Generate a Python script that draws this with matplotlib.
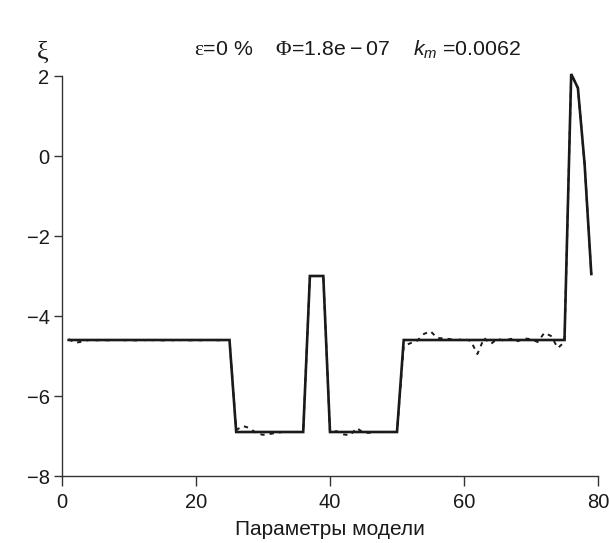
import numpy as np
import matplotlib
matplotlib.use('Agg')
import matplotlib.pyplot as plt

plt.rcParams['font.family'] = ['Liberation Sans', 'DejaVu Sans']
plt.rcParams['mathtext.fontset'] = 'custom'
plt.rcParams['mathtext.rm'] = 'Liberation Serif'
plt.rcParams['mathtext.it'] = 'Liberation Sans:italic'
plt.rcParams['mathtext.sf'] = 'Liberation Sans'

# --- данные ---
params = np.arange(1, 80)

# восстановленная модель (сплошная линия)
model = [
    -4.6, -4.6, -4.6, -4.6, -4.6, -4.6, -4.6, -4.6, -4.6, -4.6,
    -4.6, -4.6, -4.6, -4.6, -4.6, -4.6, -4.6, -4.6, -4.6, -4.6,
    -4.6, -4.6, -4.6, -4.6, -4.6,
    -6.9, -6.9, -6.9, -6.9, -6.9, -6.9, -6.9, -6.9, -6.9, -6.9, -6.9,
    -3.0, -3.0, -3.0,
    -6.9, -6.9, -6.9, -6.9, -6.9, -6.9, -6.9, -6.9, -6.9, -6.9, -6.9,
    -4.6, -4.6, -4.6, -4.6, -4.6, -4.6, -4.6, -4.6, -4.6, -4.6,
    -4.6, -4.6, -4.6, -4.6, -4.6, -4.6, -4.6, -4.6, -4.6, -4.6,
    -4.6, -4.6, -4.6, -4.6, -4.6,
    2.05, 1.7, -0.2, -2.95,
]

# исходная модель (пунктир)
true_model = [
    -4.58, -4.67, -4.64, -4.6, -4.61, -4.6, -4.61, -4.6, -4.61, -4.6,
    -4.61, -4.6, -4.61, -4.6, -4.61, -4.6, -4.61, -4.6, -4.61, -4.6,
    -4.61, -4.6, -4.61, -4.6, -4.6,
    -6.85, -6.75, -6.8, -6.93, -6.97, -6.95, -6.92, -6.9, -6.9, -6.9, -6.9,
    -3.0, -3.0, -3.0,
    -6.9, -6.88, -6.96, -6.98, -6.8, -6.92, -6.92, -6.9, -6.9, -6.9, -6.9,
    -4.75, -4.68, -4.62, -4.45, -4.38, -4.55, -4.56, -4.58, -4.6, -4.58,
    -4.62, -4.95, -4.55, -4.7, -4.57, -4.62, -4.57, -4.63, -4.56, -4.58,
    -4.65, -4.42, -4.5, -4.8, -4.65,
    2.05, 1.7, -0.2, -2.95,
]

x_ticks = [0, 20, 40, 60, 80]
y_ticks = [-8, -6, -4, -2, 0, 2]

fig = plt.figure(figsize=(6.09, 5.43), dpi=100)
ax = fig.add_axes([62 / 609, 1 - 476 / 543, 536 / 609, 400 / 543])

ax.plot(params, model, color='#1a1a1a', lw=1.9, solid_joinstyle='miter', clip_on=False)
ax.plot(params, true_model, color='#1a1a1a', lw=1.4, linestyle=(0, (2.2, 2.6)), clip_on=False)

ax.set_xlim(0, 80)
ax.set_ylim(-8, 2.0)
ax.set_xticks(x_ticks)
ax.set_yticks(y_ticks)

for s in ['top', 'right']:
    ax.spines[s].set_visible(False)
for s in ['left', 'bottom']:
    ax.spines[s].set_linewidth(1.0)
    ax.spines[s].set_color('#333333')

ax.tick_params(axis='x', direction='out', length=7, width=1.0, labelsize=14.5, pad=5, colors='#333333', labelcolor='#1a1a1a')
ax.tick_params(axis='y', direction='out', length=6, width=1.0, labelsize=14.5, pad=3, colors='#333333', labelcolor='#1a1a1a')

ax.set_xlabel('Параметры модели', fontsize=15, color='#1a1a1a', labelpad=6)

fig.text(36 / 609, 1 - 52 / 543, r'$\mathrm{\xi}$', fontsize=19, ha='left', va='center', color='#1a1a1a')
fig.text(357 / 609, 1 - 50 / 543,
         '$\\mathrm{\u03b5}$=0 %    $\\mathrm{\u03a6}$=1.8e\u2009\u2212\u200907    $k_m$ =0.0062',
         fontsize=15.3, ha='center', va='center', color='#1a1a1a')

fig.savefig('out.png', dpi=100)
